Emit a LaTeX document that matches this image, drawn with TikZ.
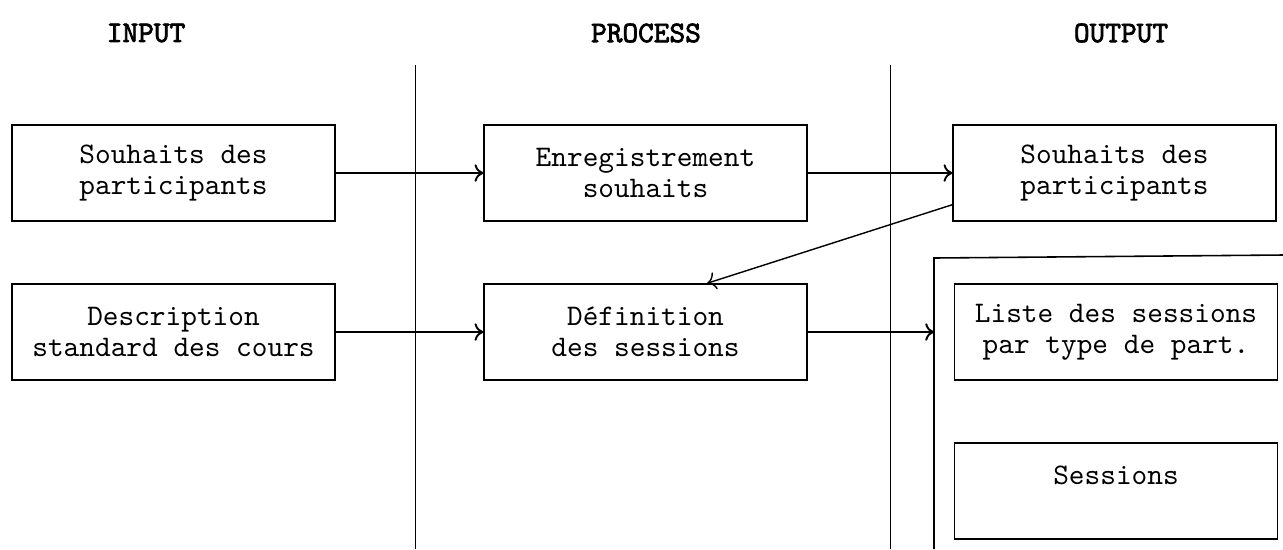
\documentclass[tikz,border=0pt]{standalone}
\usepackage{fontspec}
\setmonofont{lmmono10-regular.otf}[AutoFakeBold=2.5]
\usetikzlibrary{arrows.meta}

\begin{document}
\begin{tikzpicture}[x=0.02cm, y=-0.02cm,
    box/.style={draw, line width=0.8pt, minimum width=6.46cm, minimum height=1.92cm,
        align=center, inner sep=0pt, font=\ttfamily\fontsize{17}{17.6}\selectfont},
    head/.style={font=\ttfamily\bfseries\fontsize{17}{17.6}\selectfont},
    >={To[length=5pt,width=10pt]}  % open arrowheads
]
    \useasboundingbox (0,0) rectangle (1283,549);

    \node[head] (hin) at (146,33) {INPUT};
    \node[head] (hproc) at (646,33) {PROCESS};
    \node[head] (hout) at (1121,33) {OUTPUT};

    \draw[line width=0.5pt] (415,65) -- (415,549);
    \draw[line width=0.5pt] (890,65) -- (890,549);

    \node[box] (sin) at (173.5,173) {Souhaits des\\participants};
    \node[box] (desc) at (173.5,332) {Description\\standard des cours};
    \node[box] (enr) at (645.5,173) {Enregistrement\\souhaits};
    \node[box] (def) at (645.5,332) {Définition\\des sessions};
    \node[box] (sout) at (1114.5,173) {Souhaits des\\participants};

    % output frame, cut by the page edge
    \coordinate (frm) at (934,332);
    \draw[line width=0.9pt] (934,549) -- (934,258) -- (1283,255);
    \node[box] (liste) at (1116,332) {Liste des sessions\\par type de part.};
    \node[box] (sess) at (1116,491) {Sessions\\ \mbox{}};

    \foreach \a/\b in {sin/enr, desc/def, enr/sout, def/frm}
        \draw[->, line width=1.1pt] (\a) -- (\b);
    \draw[->, line width=0.8pt] ([yshift=0.34cm]sout.south west) -- ([xshift=1.23cm]def.north);
\end{tikzpicture}
\end{document}
